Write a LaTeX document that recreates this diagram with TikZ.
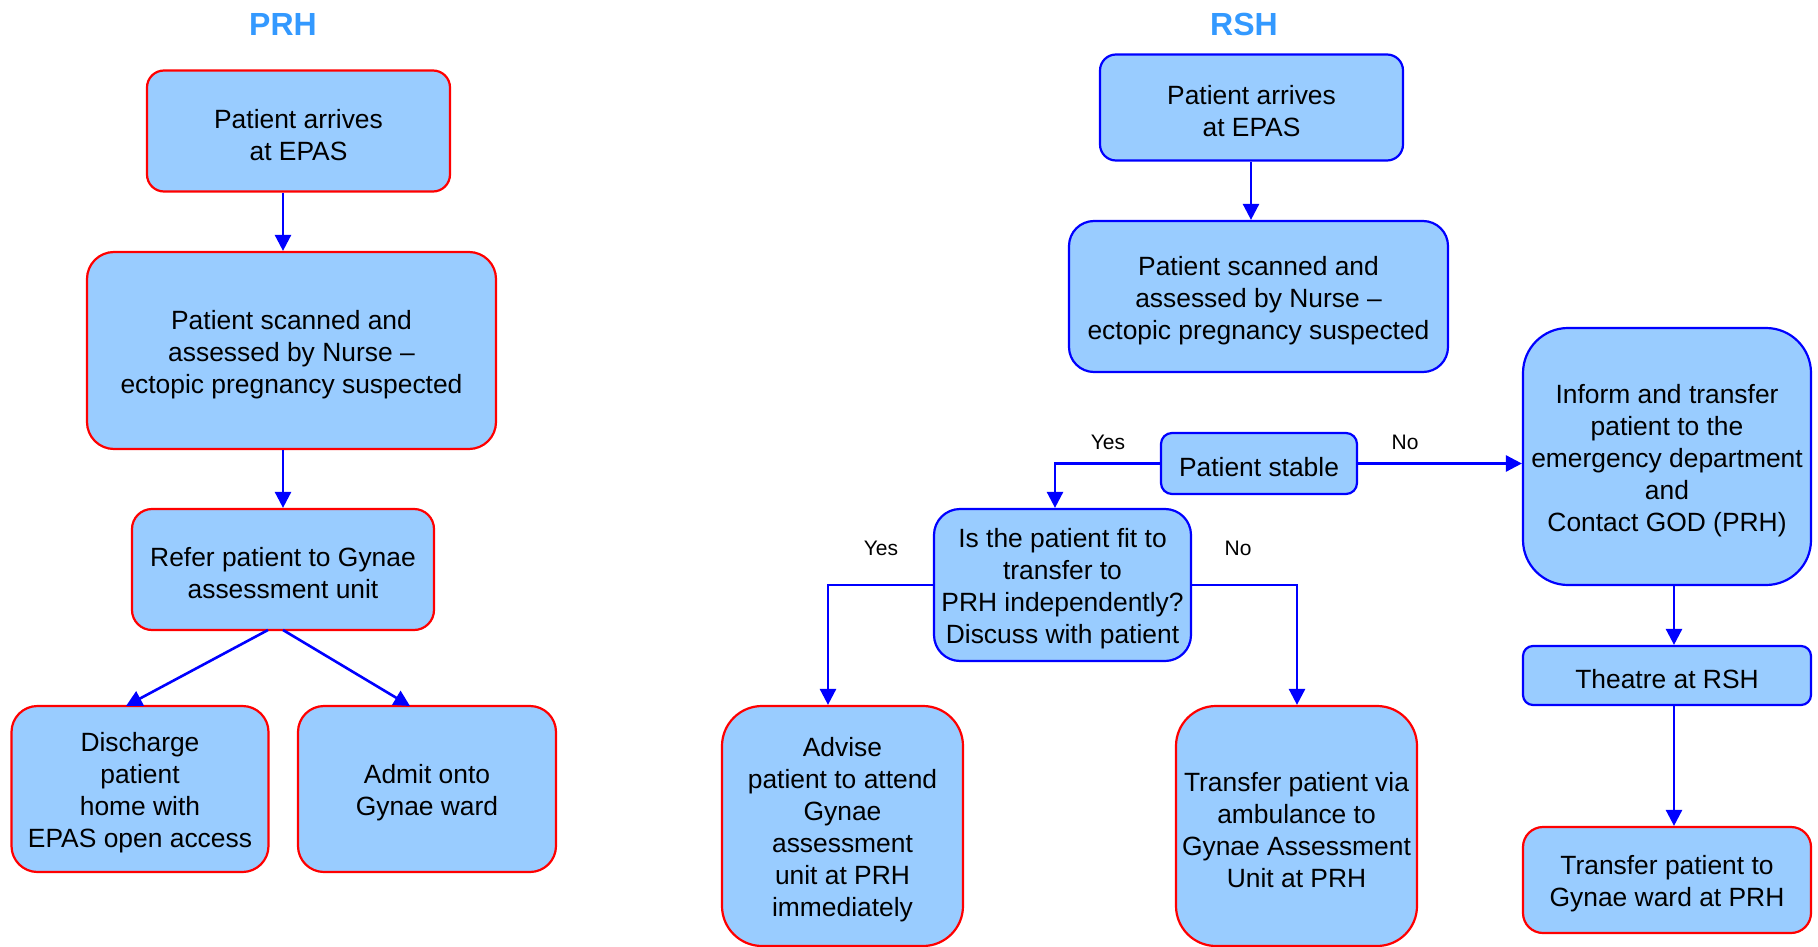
\documentclass[tikz,border=0pt]{standalone}
\usepackage{fontspec}
\setmainfont{Liberation Sans}
\usetikzlibrary{arrows.meta}
\definecolor{boxfill}{RGB}{153,204,255}
\definecolor{redline}{RGB}{255,0,0}
\definecolor{blueline}{RGB}{0,0,255}
\definecolor{titleblue}{RGB}{51,153,255}
\tikzset{
  box/.style={draw, fill=boxfill, line width=2.2pt, inner sep=0pt},
  redbox/.style={box, draw=redline},
  bluebox/.style={box, draw=blueline},
  txt/.style={align=center, inner sep=0pt, yshift=-4pt, font=\fontsize{26.4}{32}\selectfont},
  conn/.style={draw=blueline, line width=2.6pt, -{Triangle[length=16pt,width=16pt]}},
  lbl/.style={font=\fontsize{21}{24}\selectfont, inner sep=0pt},
  ttl/.style={font=\fontsize{32}{36}\selectfont\bfseries, text=titleblue, inner sep=0pt}
}
\begin{document}
\begin{tikzpicture}[x=1pt,y=-1pt]
\useasboundingbox (0,0) rectangle (1818,947);
% titles
\node[ttl] (tprh) at (283,24) {PRH};
\node[ttl] (trsh) at (1244,24) {RSH};
% PRH column
\node[redbox, minimum width=303pt, minimum height=121pt, rounded corners=17pt] (p1) at (298.5,131) {};
\node[txt] (p1t) at (p1) {Patient arrives\\at EPAS};
\node[redbox, minimum width=409pt, minimum height=197pt, rounded corners=27pt] (p2) at (291.5,350.5) {};
\node[txt] (p2t) at (p2) {Patient scanned and\\assessed by Nurse –\\ectopic pregnancy suspected};
\node[redbox, minimum width=302pt, minimum height=121pt, rounded corners=20pt] (p3) at (283,569.5) {};
\node[txt] (p3t) at (p3) {Refer patient to Gynae\\assessment unit};
\node[redbox, minimum width=257pt, minimum height=166pt, rounded corners=26pt] (p4) at (140,789) {};
\node[txt] (p4t) at (p4) {Discharge\\patient\\home with\\EPAS open access};
\node[redbox, minimum width=258pt, minimum height=166pt, rounded corners=26pt] (p5) at (427,789) {};
\node[txt] (p5t) at (p5) {Admit onto\\Gynae ward};
\draw[conn] (p1.south -| 283,0) -- (p2.north -| 283,0);
\draw[conn] (p2.south -| 283,0) -- (p3.north -| 283,0);
\coordinate (p3l) at (268,630);
\coordinate (p3r) at (283,630);
\coordinate (p4top) at (126,706);
\coordinate (p5top) at (410,706);
\draw[conn] (p3l) -- (p4top);
\draw[conn] (p3r) -- (p5top);
% RSH column
\node[bluebox, minimum width=303pt, minimum height=106pt, rounded corners=16pt] (r1) at (1251.5,107.5) {};
\node[txt] (r1t) at (r1) {Patient arrives\\at EPAS};
\node[bluebox, minimum width=379pt, minimum height=151pt, rounded corners=25pt] (r2) at (1258.5,296.5) {};
\node[txt] (r2t) at (r2) {Patient scanned and\\assessed by Nurse –\\ectopic pregnancy suspected};
\draw[conn] (r1.south -| 1251,0) -- (r2.north -| 1251,0);
\node[bluebox, minimum width=196pt, minimum height=61pt, rounded corners=11pt] (st) at (1259,463.5) {};
\node[txt] (stt) at (st) {Patient stable};
\node[bluebox, minimum width=257pt, minimum height=152pt, rounded corners=26pt] (dc) at (1062.5,585) {};
\node[txt] (dct) at (dc) {Is the patient fit to\\transfer to\\PRH independently?\\Discuss with patient};
\node[redbox, minimum width=241pt, minimum height=240pt, rounded corners=40pt] (ad) at (842.5,826) {};
\node[txt] (adt) at (ad) {Advise\\patient to attend\\Gynae\\assessment\\unit at PRH\\immediately};
\node[redbox, minimum width=241pt, minimum height=240pt, rounded corners=40pt] (tv) at (1296.5,826) {};
\node[txt] (tvt) at (tv) {Transfer patient via\\ambulance to\\Gynae Assessment\\Unit at PRH};
\node[bluebox, minimum width=288pt, minimum height=257pt, rounded corners=45pt] (inf) at (1667,456.5) {};
\node[txt] (inft) at (inf) {Inform and transfer\\patient to the\\emergency department\\and\\Contact GOD (PRH)};
\node[bluebox, minimum width=288pt, minimum height=59pt, rounded corners=10pt] (th) at (1667,675.5) {};
\node[txt] (tht) at (th) {Theatre at RSH};
\node[redbox, minimum width=288pt, minimum height=106pt, rounded corners=20pt] (tg) at (1667,880) {};
\node[txt] (tgt) at (tg) {Transfer patient to\\Gynae ward at PRH};
% RSH connectors
\draw[conn] (st.west) -| (dc.north -| 1055,0);
\node[lbl] (ly1) at (1108,442) {Yes};
\draw[conn] (st.east) -- (inf.west |- st.east);
\node[lbl] (ln1) at (1405,442) {No};
\draw[conn] (dc.west) -| (ad.north -| 828,0);
\node[lbl] (ly2) at (881,548) {Yes};
\draw[conn] (dc.east) -| (tv.north -| 1297,0);
\node[lbl] (ln2) at (1238,548) {No};
\draw[conn] (inf.south -| 1674,0) -- (th.north -| 1674,0);
\draw[conn] (th.south -| 1674,0) -- (tg.north -| 1674,0);
\end{tikzpicture}
\end{document}
